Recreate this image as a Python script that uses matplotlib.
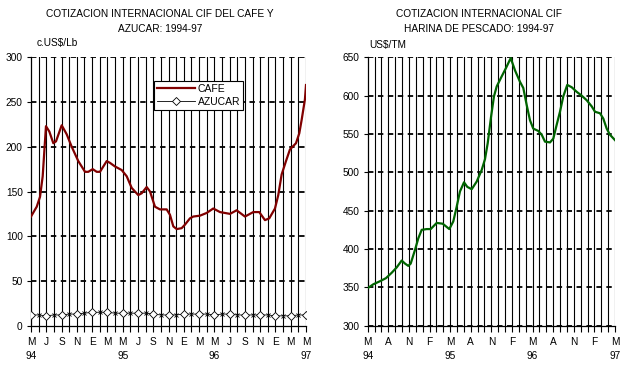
import matplotlib
matplotlib.use('Agg')
import matplotlib.pyplot as plt

plt.rcParams['font.family'] = ['Liberation Sans', 'DejaVu Sans']
plt.rcParams['font.size'] = 7.3

# meses desde mayo 1994 (0) hasta mayo 1997 (36)
cafe_t = [0, 0.75, 1.18, 1.53, 1.96, 2.4, 2.92, 3.27, 4.02, 4.67, 5.33, 6.19, 7.07, 7.5,
          8.08, 8.6, 9.03, 9.91, 10.34, 10.99, 11.87, 12.53, 13.18, 14.04, 14.49, 15.14,
          15.58, 16.23, 16.88, 17.76, 18.19, 18.63, 19.07, 19.72, 20.16, 20.81, 21.24,
          22.12, 22.99, 23.86, 24.74, 26.05, 26.92, 28.01, 29.1, 29.88, 30.63, 31.19,
          31.94, 32.37, 32.81, 33.38, 33.9, 34.69, 35.12, 35.43, 35.86, 36]
cafe_v = [122, 133, 144, 167, 223, 217, 204, 206, 224, 214, 200, 184, 172, 172,
          175, 172, 172, 184, 182, 178, 174, 167, 154, 146, 148, 155, 150, 133, 130,
          130, 124, 111, 108, 109, 113, 120, 122, 123, 126, 131, 127, 125, 129, 122,
          127, 127, 118, 120, 131, 146, 169, 184, 197, 204, 215, 230, 253, 269]

azucar_v = [12, 12, 11, 12, 12, 13, 13, 14, 15, 15, 15, 14, 14, 14, 14, 14, 13, 12, 12,
            12, 13, 13, 13, 13, 12, 13, 13, 12, 12, 12, 12, 12, 11, 11, 11, 12, 12]

harina_t = [0, 0.82, 1.79, 2.66, 3.49, 4.22, 4.95, 5.43, 5.91, 6.26, 6.89, 7.37, 7.86,
            8.59, 9.17, 10.04, 10.92, 11.88, 12.46, 12.95, 13.43, 14.02, 14.5, 15.14,
            15.87, 16.59, 17.07, 17.47, 17.95, 18.38, 18.78, 19.5, 20.13, 20.82, 21.44,
            22.17, 22.65, 23.14, 23.62, 24.1, 24.83, 25.33, 25.81, 26.54, 27.02, 27.51,
            27.99, 28.47, 29.05, 29.69, 30.42, 31.15, 31.88, 32.61, 33.09, 33.82, 34.3,
            34.79, 35.27, 36]
harina_v = [349, 354, 358, 362, 369, 376, 385, 381, 378, 381, 399, 414, 425,
            426, 426, 434, 433, 426, 436, 455, 475, 487, 481, 478,
            488, 503, 517, 538, 572, 599, 612, 625, 636, 649, 633,
            618, 610, 588, 568, 557, 554, 549, 540, 539, 544, 562,
            579, 599, 614, 611, 605, 600, 594, 586, 579, 577, 570,
            557, 549, 542]

left_ticks = ['M\n94', 'J', 'S', 'N', 'E', 'M', 'M\n95', 'J', 'S', 'N', 'E', 'M',
              'M\n96', 'J', 'S', 'N', 'E', 'M', 'M\n97']
right_ticks = ['M\n94', 'A', 'N', 'F', 'M\n95', 'A', 'N', 'F', 'M\n96', 'A', 'N', 'F', 'M\n97']

fig = plt.figure(figsize=(6.36, 3.68), dpi=100)


def style_axes(ax, ymax, ystep, labels, lstep):
    ax.set_xlim(0, 36)
    for m in range(1, 37):
        ax.axvline(m, color='black', lw=0.8, zorder=1)
    for y in range(ystep, ymax + 1, ystep):
        ax.axhline(y, color='black', lw=1.3, ls=(0, (3, 2.5)), zorder=1)
    ax.set_xticks(range(0, 37), minor=True)
    ax.set_xticks(range(0, 37, lstep))
    ax.set_xticklabels(labels, linespacing=1.55)
    ax.tick_params(axis='x', which='both', length=4, width=0.8, direction='out', pad=4)
    ax.tick_params(axis='y', length=3, width=0.8, pad=3)
    for s in ['top', 'right']:
        ax.spines[s].set_visible(False)
    for s in ['left', 'bottom']:
        ax.spines[s].set_linewidth(0.9)


# cafe y azucar
ax1 = fig.add_axes([31 / 636, 1 - 325.7 / 368, 275 / 636, 268.4 / 368])
ax1.set_ylim(0, 300)
ax1.set_yticks(range(0, 301, 50))
style_axes(ax1, 300, 50, left_ticks, 2)
ax1.plot(cafe_t, cafe_v, color='#800000', lw=1.6, zorder=3, label='CAFE')
mon = list(range(37))
ax1.plot(mon, azucar_v, color='black', lw=0.6, zorder=3)
ax1.plot(mon[0::2], azucar_v[0::2], ls='none', marker='D', ms=3.6, mfc='white',
         mec='black', mew=0.6, zorder=4)
ax1.plot(mon[1::2], azucar_v[1::2], ls='none', marker='x', ms=3.2,
         mec='black', mew=0.6, zorder=4)
ax1.plot([], [], color='black', lw=0.6, marker='D', ms=3.6, mfc='white', mew=0.6,
         label='AZUCAR')
leg = ax1.legend(loc='upper left', bbox_to_anchor=(0.447, 0.912), borderaxespad=0,
                 frameon=True, fancybox=False, edgecolor='black', framealpha=1,
                 handlelength=3.6, handletextpad=0.3, borderpad=0.3, labelspacing=0.25,
                 fontsize=7.5)
leg.get_frame().set_linewidth(0.8)
fig.text(37 / 636, 1 - 43 / 368, 'c.US$/Lb', ha='left', va='center')
fig.text(160 / 636, 1 - 14 / 368, 'COTIZACION INTERNACIONAL CIF DEL CAFE Y',
         ha='center', va='center')
fig.text(160 / 636, 1 - 29 / 368, 'AZUCAR: 1994-97', ha='center', va='center')

# harina de pescado
ax2 = fig.add_axes([367.7 / 636, 1 - 325.7 / 368, 247.3 / 636, 268.4 / 368])
ax2.set_ylim(300, 650)
ax2.set_yticks(range(300, 651, 50))
style_axes(ax2, 650, 50, right_ticks, 3)
ax2.plot(harina_t, harina_v, color='#006400', lw=1.6, zorder=3)
fig.text(369 / 636, 1 - 45 / 368, 'US$/TM', ha='left', va='center')
fig.text(479 / 636, 1 - 14 / 368, 'COTIZACION INTERNACIONAL CIF',
         ha='center', va='center')
fig.text(479 / 636, 1 - 29 / 368, 'HARINA DE PESCADO: 1994-97',
         ha='center', va='center')

fig.savefig('out.png', dpi=100)
